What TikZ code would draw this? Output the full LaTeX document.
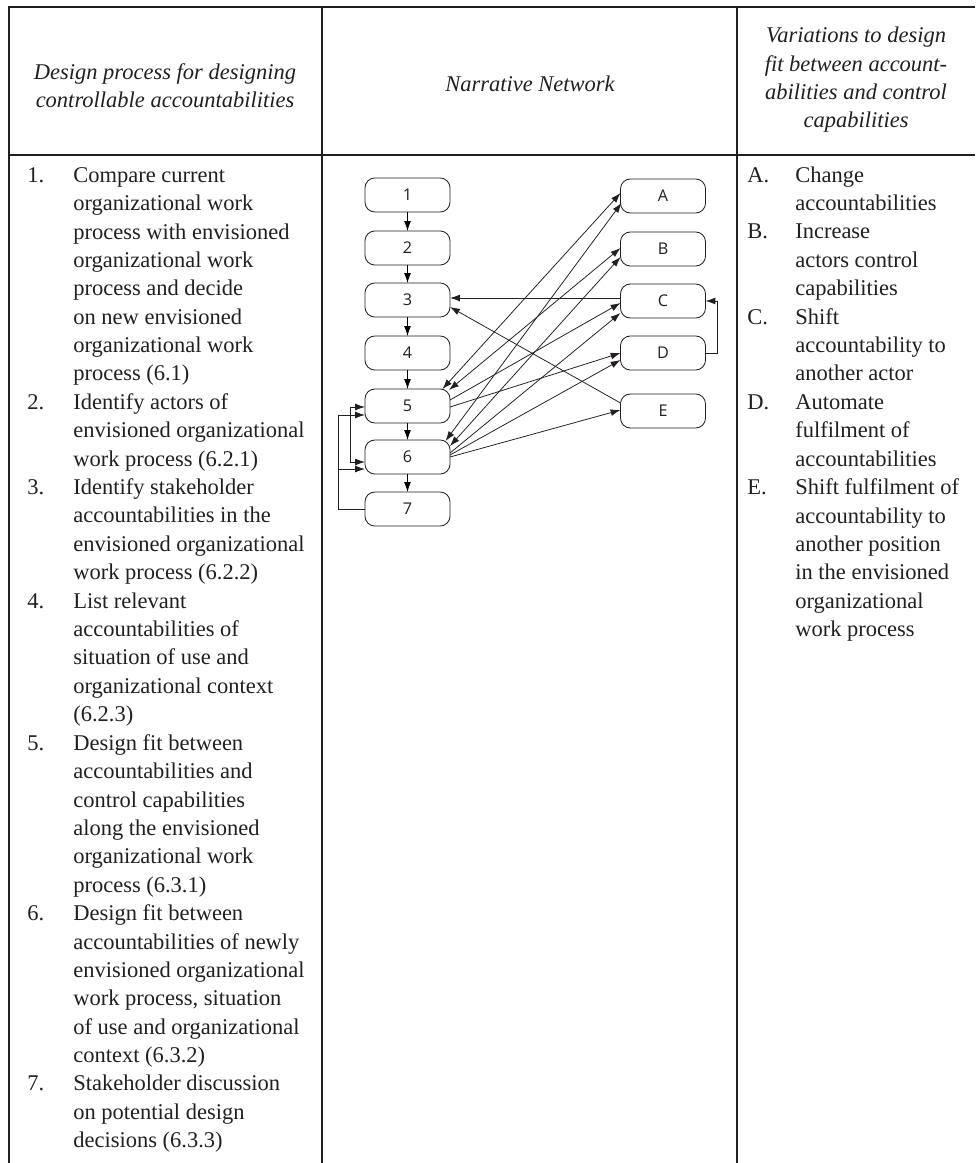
\documentclass[tikz,border=0pt]{standalone}
\usepackage{fontspec}
\setmainfont{Liberation Serif}
\newfontfamily\netfont{Open Sans}
\usepackage{tikz,tkz-graph}
\usetikzlibrary{arrows.meta,calc}
\definecolor{ink}{RGB}{35,31,32}

\begin{document}
\begin{tikzpicture}[x = 0.025cm, y = -0.025cm, color = ink]
\tikzstyle{VertexStyle} = []
\tikzstyle{EdgeStyle} = []
\tikzstyle{LabelStyle} = []
\tikzstyle{stepStyle}=[shape = rectangle, rounded corners = 7pt, minimum width = 2.125cm, minimum height = 0.85cm, inner sep = 0pt, line width = 0.6pt, draw, font = \netfont\fontsize{11.5}{13}\selectfont]
\tikzstyle{flowStyle}=[line width = 0.55pt, >={Latex[length=7pt, width=4.8pt]}]
\tikzstyle{gridStyle}=[line width = 1.5pt]
\tikzstyle{headStyle}=[align = center, inner sep = 0pt, font = \itshape\fontsize{16}{20.15}\selectfont]
% base anchor = baseline of the last line
\tikzstyle{itemStyle}=[anchor = base west, align = left, inner sep = 0pt, font = \fontsize{16}{20.15}\selectfont]
\useasboundingbox (0,0) rectangle (975,1163);
% table
\draw[gridStyle] (975,7) -- (9,7) -- (9,1163);
\draw[gridStyle] (9,155) -- (975,155);
\draw[gridStyle] (322,7) -- (322,1163);
\draw[gridStyle] (737,7) -- (737,1163);
\node[headStyle] (headDesign) at (165,86) {Design process for designing\\controllable accountabilities};
\node[headStyle] (headNet) at (530,84) {Narrative Network};
\node[headStyle] (headVar) at (856,80) {Variations to design\\fit between account-\\abilities and control\\capabilities};
% design steps
\node[itemStyle] (num1) at (27,182) {1.};
\node[itemStyle] (item1) at (73,380.8) {Compare current\\organizational work\\process with envisioned\\organizational work\\process and decide\\on new envisioned\\organizational work\\process (6.1)};
\node[itemStyle] (num2) at (27,409.2) {2.};
\node[itemStyle] (item2) at (73,466) {Identify actors of\\envisioned organizational\\work process (6.2.1)};
\node[itemStyle] (num3) at (27,494.4) {3.};
\node[itemStyle] (item3) at (73,579.6) {Identify stakeholder\\accountabilities in the\\envisioned organizational\\work process (6.2.2)};
\node[itemStyle] (num4) at (27,608) {4.};
\node[itemStyle] (item4) at (73,721.6) {List relevant\\accountabilities of\\situation of use and\\organizational context\\(6.2.3)};
\node[itemStyle] (num5) at (27,750) {5.};
\node[itemStyle] (item5) at (73,892) {Design fit between\\accountabilities and\\control capabilities\\along the envisioned\\organizational work\\process (6.3.1)};
\node[itemStyle] (num6) at (27,920.4) {6.};
\node[itemStyle] (item6) at (73,1062.4) {Design fit between\\accountabilities of newly\\envisioned organizational\\work process, situation\\of use and organizational\\context (6.3.2)};
\node[itemStyle] (num7) at (27,1090.8) {7.};
\node[itemStyle] (item7) at (73,1147.6) {Stakeholder discussion\\on potential design\\decisions (6.3.3)};
% variations
\node[itemStyle] (letA) at (747,182) {A.};
\node[itemStyle] (varA) at (795,210.4) {Change\\accountabilities};
\node[itemStyle] (letB) at (747,238.8) {B.};
\node[itemStyle] (varB) at (795,295.6) {Increase\\actors control\\capabilities};
\node[itemStyle] (letC) at (747,324) {C.};
\node[itemStyle] (varC) at (795,380.8) {Shift\\accountability to\\another actor};
\node[itemStyle] (letD) at (747,409.2) {D.};
\node[itemStyle] (varD) at (795,466) {Automate\\fulfilment of\\accountabilities};
\node[itemStyle] (letE) at (747,494.4) {E.};
\node[itemStyle] (varE) at (795,636.4) {Shift fulfilment of\\accountability to\\another position\\in the envisioned\\organizational\\work process};
% narrative network
\Vertex[style = stepStyle, x = 407.5, y = 195, L = {1}]{v1}
\Vertex[style = stepStyle, x = 407.5, y = 248, L = {2}]{v2}
\Vertex[style = stepStyle, x = 407.5, y = 300, L = {3}]{v3}
\Vertex[style = stepStyle, x = 407.5, y = 353, L = {4}]{v4}
\Vertex[style = stepStyle, x = 407.5, y = 406, L = {5}]{v5}
\Vertex[style = stepStyle, x = 407.5, y = 457, L = {6}]{v6}
\Vertex[style = stepStyle, x = 407.5, y = 509, L = {7}]{v7}
\Vertex[style = stepStyle, x = 663, y = 196, L = {A}]{vA}
\Vertex[style = stepStyle, x = 663, y = 249, L = {B}]{vB}
\Vertex[style = stepStyle, x = 663, y = 301, L = {C}]{vC}
\Vertex[style = stepStyle, x = 663, y = 353, L = {D}]{vD}
\Vertex[style = stepStyle, x = 663, y = 411, L = {E}]{vE}
\Edge[style = {flowStyle, ->}](v1)(v2)
\Edge[style = {flowStyle, ->}](v2)(v3)
\Edge[style = {flowStyle, ->}](v3)(v4)
\Edge[style = {flowStyle, ->}](v4)(v5)
\Edge[style = {flowStyle, ->}](v5)(v6)
\Edge[style = {flowStyle, ->}](v6)(v7)
% both ways between 5,6 and A,B
\draw[flowStyle, <->] ($(vA.west)+(0,-3)$) -- ($(v5.north)+(35,0)$);
\draw[flowStyle, <->] ($(vA.west)+(1,7)$) -- ($(v6.north)+(38,1)$);
\draw[flowStyle, <->] ($(vB.west)+(0,-1)$) -- ($(v5.north east)+(-1,1)$);
\draw[flowStyle, <->] ($(vB.west)+(0,8)$) -- ($(v6.north east)+(0,6)$);
% from 5,6 to C,D,E
\draw[flowStyle, ->] ($(v5.east)+(0,-6)$) -- ($(vC.west)+(0,2)$);
\draw[flowStyle, ->] ($(v5.east)+(0,1)$) -- (vD.west);
\draw[flowStyle, ->] ($(v6.east)+(0,-4)$) -- ($(vC.west)+(0,12)$);
\draw[flowStyle, ->] ($(v6.east)+(0,-2)$) -- ($(vD.west)+(0,7)$);
\draw[flowStyle, ->] (v6.east) -- ($(vE.west)+(0,-1)$);
% back to 3
\draw[flowStyle, ->] ($(vC.west)+(0,-3)$) -- ($(v3.east)+(0,-2)$);
\draw[flowStyle, ->] ($(vE.west)+(0,-8)$) -- ($(v3.east)+(0,7)$);
\draw[flowStyle, ->] (vD.east) -- ++(12,0) |- (vC.east);
% loops on the left
\draw[flowStyle, ->] (v7.west) -- ++(-27,0) coordinate (loopFoot) |- ($(v5.west)+(0,9)$);
\draw[flowStyle, ->] (loopFoot) |- ($(v6.west)+(0,12)$);
\draw[flowStyle, <->] ($(v5.west)+(0,1)$) -- ++(-15,0) |- ($(v6.west)+(0,5)$);
\end{tikzpicture}
\end{document}
